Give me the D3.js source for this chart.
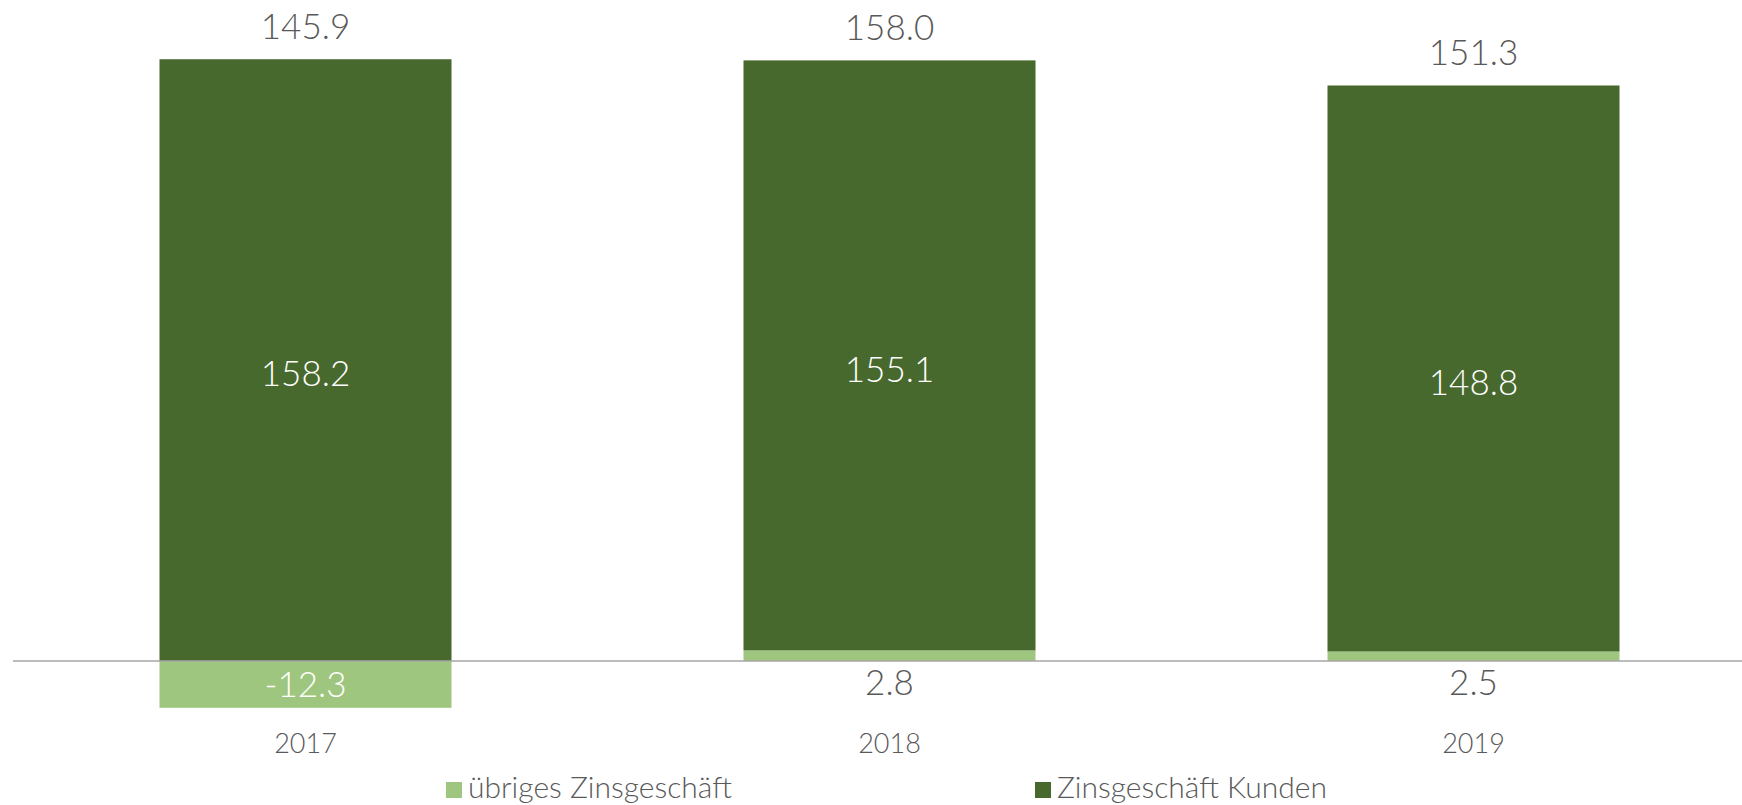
<!DOCTYPE html>
<meta charset="utf-8">
<head>
    <script src="https://d3js.org/d3.v7.min.js"></script>
    <style>
        body { margin: 0; background: #fff; }
        text { font-family: Lato, "Noto Sans", sans-serif; font-weight: 300; }
    </style>
</head>
<body>
<script type="text/javascript">

    var width = 1742;
    var height = 805;

    // data
    var years = ["2017", "2018", "2019"];
    var kunden = [158.2, 155.1, 148.8];      // Zinsgeschäft Kunden
    var uebriges = [-12.3, 2.8, 2.5];        // übriges Zinsgeschäft
    var totals = [145.9, 158.0, 151.3];
    var seriesNames = ["übriges Zinsgeschäft", "Zinsgeschäft Kunden"];

    var colors = ["#9fc67e", "#47692d"];
    var textGray = "#595959";

    var svg = d3.select("body")
        .append("svg")
        .attr("width", width)
        .attr("height", height);

    var x = d3.scaleBand()
        .domain(years)
        .range([13.5, 1765.5])
        .paddingInner(0.5)
        .paddingOuter(0.25);

    var y = d3.scaleLinear()
        .domain([-20, 160])
        .range([737.1, 52.4]);

    // build segments: light one first (bottom), then dark on top of positives
    var segs = [];
    years.forEach(function (yr, i) {
        var u = uebriges[i];
        var k = kunden[i];
        var k0 = u > 0 ? u : 0;
        segs.push({year: yr, s: 0, v0: 0, v1: u, val: u});
        segs.push({year: yr, s: 1, v0: k0, v1: k0 + k, val: k});
    });

    svg.append("g")
        .selectAll("rect")
        .data(segs)
        .enter()
        .append("rect")
        .attr("x", function (d) { return x(d.year); })
        .attr("width", x.bandwidth())
        .attr("y", function (d) { return y(Math.max(d.v0, d.v1)); })
        .attr("height", function (d) { return Math.abs(y(d.v0) - y(d.v1)); })
        .attr("fill", function (d) { return colors[d.s]; });

    // zero line
    svg.append("line")
        .attr("x1", 13)
        .attr("x2", width)
        .attr("y1", y(0))
        .attr("y2", y(0))
        .attr("stroke", "#a6a6a6")
        .attr("stroke-width", 1.5);

    // segment labels
    svg.append("g")
        .selectAll("text")
        .data(segs)
        .enter()
        .append("text")
        .attr("x", function (d) { return x(d.year) + x.bandwidth() / 2; })
        .attr("y", function (d) {
            if (d.s === 1) return (y(d.v0) + y(d.v1)) / 2 + 14;
            if (d.val < 0) return (y(d.v0) + y(d.v1)) / 2;
            return y(0) + 22;
        })
        .attr("dy", "0.35em")
        .attr("text-anchor", "middle")
        .attr("font-size", "35px")
        .attr("fill", function (d) {
            return (d.s === 1 || d.val < 0) ? "#ffffff" : textGray;
        })
        .text(function (d) { return d.val.toFixed(1); });

    // totals
    svg.append("g")
        .selectAll("text")
        .data(totals)
        .enter()
        .append("text")
        .attr("x", function (d, i) { return x(years[i]) + x.bandwidth() / 2; })
        .attr("y", function (d, i) {
            var top = Math.max(uebriges[i], 0) + kunden[i];
            return y(top) - 20;
        })
        .attr("text-anchor", "middle")
        .attr("font-size", "35px")
        .attr("fill", textGray)
        .text(function (d) { return d.toFixed(1); });

    // year labels
    svg.append("g")
        .selectAll("text")
        .data(years)
        .enter()
        .append("text")
        .attr("x", function (d) { return x(d) + x.bandwidth() / 2; })
        .attr("y", 753)
        .attr("text-anchor", "middle")
        .attr("font-size", "27px")
        .attr("fill", textGray)
        .text(function (d) { return d; });

    // legend
    var legend = svg.append("g")
        .selectAll("g")
        .data(seriesNames)
        .enter()
        .append("g")
        .attr("transform", function (d, i) {
            return "translate(" + (446 + i * 589) + ",782)";
        });

    legend.append("rect")
        .attr("width", 16)
        .attr("height", 16)
        .attr("fill", function (d, i) { return colors[i]; });

    legend.append("text")
        .attr("x", 22)
        .attr("y", 16)
        .attr("font-size", "30px")
        .attr("fill", textGray)
        .text(function (d) { return d; });

</script>
</body>
</html>
